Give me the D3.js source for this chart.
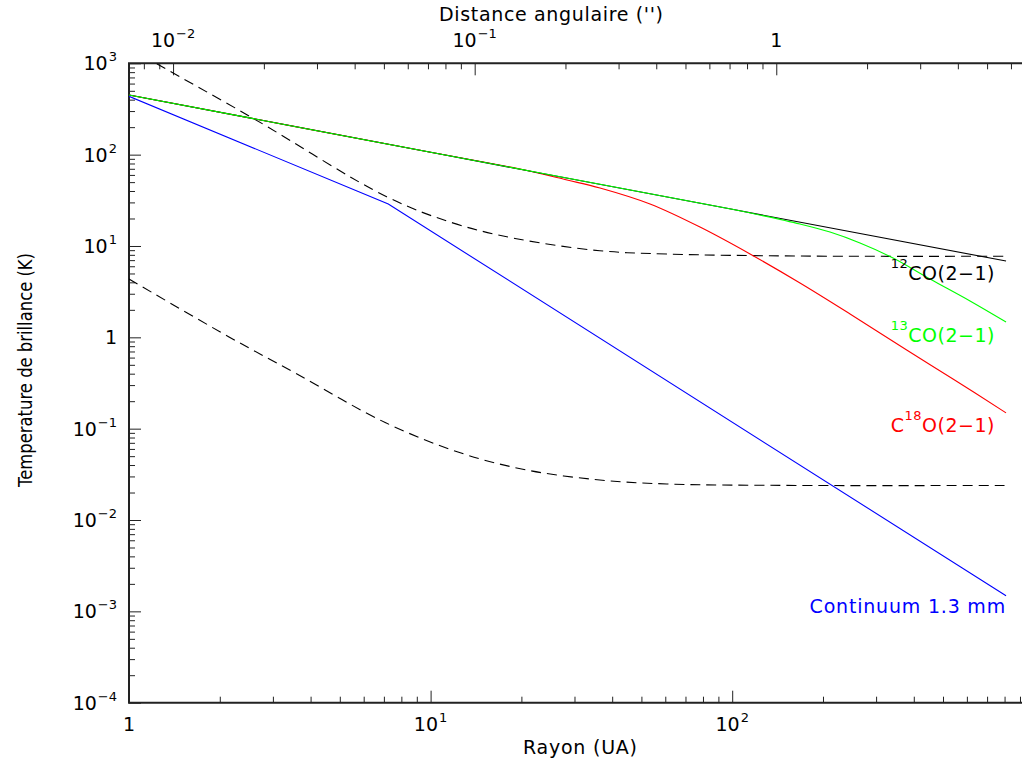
<!DOCTYPE html>
<html><head><meta charset="utf-8">
<script src="https://cdn.jsdelivr.net/npm/d3@7"></script>
<style>
body{margin:0;background:#fff}
svg{display:block}
text{font-family:"DejaVu Sans",sans-serif;fill:#000}
</style>
</head><body>
<svg id="chart" width="1022" height="763"></svg>
<script>
// ---------------- data ----------------
const distancePc = 140; // conversion AU -> arcsec (r / d)

const co12Radius = [1, 10, 100, 809];
const co12Temp   = [450, 106, 25.2, 6.84];

const co13Radius = [1, 10, 100, 123.7, 167.8, 211, 265.3, 341.4, 452.7, 614.5, 809];
const co13Temp   = [450, 106, 25.2, 21.8, 17.4, 14.2, 10.78, 7.38, 4.35, 2.50, 1.47];

const c18oRadius = [1, 10, 19.79, 28.34, 36.45, 53.4, 78.2, 114.6, 167.8, 245.9, 378.9, 539.6, 809];
const c18oTemp   = [450, 106, 69.6, 52.75, 43.1, 28.8, 16.1, 8.17, 3.93, 1.80, 0.726, 0.35, 0.149];

const contRadius = [1, 7.24, 809];
const contTemp   = [435, 28.8, 0.00148];

const dashHiRadius = [1, 1.257, 2.58, 7.15, 11.9, 19.05, 36.4, 60.7, 167.8, 809];
const dashHiTemp   = [1480, 958, 250, 34.6, 17.8, 12.1, 8.87, 8.17, 7.76, 7.72];

const dashLoRadius = [1, 2.146, 3.57, 7.10, 12.7, 20.9, 36.4, 60.7, 167.8, 809];
const dashLoTemp   = [4.35, 1.01, 0.404, 0.116, 0.0537, 0.0352, 0.0274, 0.0248, 0.0239, 0.0239];

const xMajorTicks   = [1, 10, 100];
const xTickLabels   = [["1", ""], ["10", "1"], ["10", "2"]];
const topMajorTicks = [0.01, 0.1, 1];
const topTickLabels = [["10", "\u22122"], ["10", "\u22121"], ["1", ""]];
const yMajorTicks   = [1e-4, 1e-3, 1e-2, 1e-1, 1, 10, 100, 1000];
const yTickLabels   = [["10","\u22124"],["10","\u22123"],["10","\u22122"],["10","\u22121"],["1",""],["10","1"],["10","2"],["10","3"]];

const xDomain = [1, 930];
const yDomain = [1e-4, 1e3];

// ---------------- layout ----------------
const L = 129, T = 63.3, B = 702.7;
const decadeX = 301.6;
const R = L + decadeX * Math.log10(xDomain[1]);

const svg = d3.select("#chart");
const x = d3.scaleLog().domain(xDomain).range([L, R]);
const xTop = d3.scaleLog().domain([xDomain[0] / distancePc, xDomain[1] / distancePc]).range([L, R]);
const y = d3.scaleLog().domain(yDomain).range([B, T]);

svg.append("defs").append("clipPath").attr("id", "plotclip")
  .append("rect").attr("x", L).attr("y", T).attr("width", R - L).attr("height", B - T);

const isMajor = v => Math.abs(Math.log10(v) - Math.round(Math.log10(v))) < 1e-6;

function axisGroup(axis, tf) {
  const g = svg.append("g").attr("transform", tf).call(axis);
  g.select(".domain").remove();
  g.selectAll(".tick line").attr("stroke", "#222").attr("stroke-width", 1);
  g.selectAll(".tick text").remove();
  return g;
}
const xMinor = x.ticks().filter(v => !isMajor(v));
const topMinor = xTop.ticks().filter(v => !isMajor(v));
const yMinor = y.ticks().filter(v => !isMajor(v));

axisGroup(d3.axisBottom(x).tickValues(xMinor).tickSize(-6), `translate(0,${B})`);
axisGroup(d3.axisBottom(x).tickValues(xMajorTicks).tickSize(-12), `translate(0,${B})`);
axisGroup(d3.axisTop(xTop).tickValues(topMinor).tickSize(-6), `translate(0,${T})`);
axisGroup(d3.axisTop(xTop).tickValues(topMajorTicks).tickSize(-12), `translate(0,${T})`);
axisGroup(d3.axisLeft(y).tickValues(yMinor).tickSize(-6), `translate(${L},0)`);
axisGroup(d3.axisLeft(y).tickValues(yMajorTicks).tickSize(-12), `translate(${L},0)`);

// frame
svg.append("path")
  .attr("d", `M${R},${T}H${L}V${B}H${R}`)
  .attr("fill", "none").attr("stroke", "#222").attr("stroke-width", 2);

// ---------------- tick labels ----------------
function supLabel(xp, yp, parts, anchor, size, supSize, supShift) {
  const t = svg.append("text").attr("x", xp).attr("y", yp)
    .attr("text-anchor", anchor).attr("font-size", size);
  t.append("tspan").text(parts[0]);
  if (parts[1]) t.append("tspan").attr("font-size", supSize).attr("dy", -supShift).attr("dx", 1).text(parts[1]);
  return t;
}
xMajorTicks.forEach((v, i) => supLabel(x(v), 731, xTickLabels[i], "middle", 19, 13, 9));
topMajorTicks.forEach((v, i) => supLabel(xTop(v), 47, topTickLabels[i], "middle", 19, 13, 9));
yMajorTicks.forEach((v, i) => supLabel(117, y(v) + 7, yTickLabels[i], "end", 19, 13, 9));

// ---------------- curves ----------------
const smooth = d3.line().x(d => x(d[0])).y(d => y(d[1])).curve(d3.curveCatmullRom.alpha(0.5));
const straight = d3.line().x(d => x(d[0])).y(d => y(d[1]));
const plot = svg.append("g").attr("clip-path", "url(#plotclip)");
const series = [
  {r: dashHiRadius, t: dashHiTemp, c: "#000", dash: "10,6", gen: smooth},
  {r: dashLoRadius, t: dashLoTemp, c: "#000", dash: "10,6", gen: smooth},
  {r: contRadius, t: contTemp, c: "#0000ff", gen: straight},
  {r: c18oRadius, t: c18oTemp, c: "#ff0000", gen: smooth},
  {r: co12Radius, t: co12Temp, c: "#000", gen: straight},
  {r: co13Radius, t: co13Temp, c: "#00ff00", gen: smooth}
];
series.forEach(s => {
  plot.append("path").datum(s.r.map((r, i) => [r, s.t[i]]))
    .attr("d", s.gen).attr("fill", "none").attr("stroke", s.c).attr("stroke-width", 1.1)
    .attr("stroke-dasharray", s.dash || null);
});

// ---------------- curve labels ----------------
function isoLabel(xEnd, yb, pre, sup, post, color) {
  const t = svg.append("text").attr("x", xEnd).attr("y", yb).attr("text-anchor", "end")
    .attr("font-size", 19).attr("letter-spacing", 0.5).style("fill", color);
  if (pre) t.append("tspan").text(pre);
  t.append("tspan").attr("font-size", 13).attr("dy", -12).text(sup);
  t.append("tspan").attr("dy", 12).text(post);
}
isoLabel(995, 280, "", "12", "CO(2\u22121)", "#000");
isoLabel(995, 342, "", "13", "CO(2\u22121)", "#00ff00");
isoLabel(995, 432, "C", "18", "O(2\u22121)", "#ff0000");
svg.append("text").attr("x", 1006).attr("y", 613).attr("text-anchor", "end")
  .attr("font-size", 19).attr("letter-spacing", 0.8).style("fill", "#0000ff").text("Continuum 1.3 mm");

// ---------------- axis titles ----------------
svg.append("text").attr("x", 551).attr("y", 21).attr("text-anchor", "middle")
  .attr("font-size", 19).attr("textLength", 224).attr("lengthAdjust", "spacing")
  .text("Distance angulaire ('')");
svg.append("text").attr("x", 580).attr("y", 754).attr("text-anchor", "middle")
  .attr("font-size", 19).attr("textLength", 114).attr("lengthAdjust", "spacing")
  .text("Rayon (UA)");
svg.append("text").attr("transform", "translate(32,370) rotate(-90)").attr("text-anchor", "middle")
  .attr("font-size", 19).attr("textLength", 234).attr("lengthAdjust", "spacingAndGlyphs")
  .text("Temperature de brillance (K)");
</script>
</body></html>
